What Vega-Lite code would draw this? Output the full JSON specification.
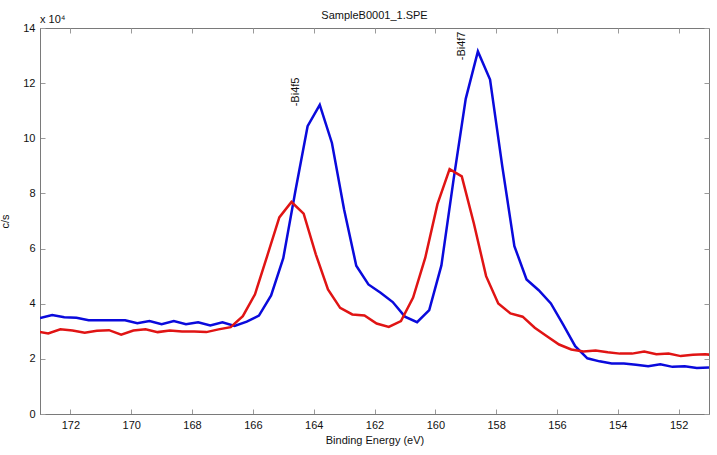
{
  "$schema": "https://vega.github.io/schema/vega-lite/v6.json",
  "width": 669,
  "height": 386,
  "autosize": {"type": "none"},
  "padding": {"left": 40, "top": 28, "right": 8, "bottom": 41},
  "background": "white",
  "config": {
    "font": "Liberation Sans",
    "view": {"stroke": "#7a7a7a", "strokeWidth": 1},
    "axis": {
      "grid": false,
      "domainColor": "#7a7a7a",
      "tickColor": "#9a9a9a",
      "labelColor": "#111111",
      "titleColor": "#111111",
      "labelFont": "Liberation Sans",
      "titleFont": "Liberation Sans",
      "labelFontSize": 11,
      "titleFontSize": 11,
      "titleFontWeight": "normal",
      "tickSize": -5
    }
  },
  "title": {
    "text": "SampleB0001_1.SPE",
    "fontSize": 11,
    "fontWeight": "normal",
    "font": "Liberation Sans",
    "color": "#111111",
    "offset": -7
  },
  "datasets": {
    "spectra": [
      {"series": "blue", "e": 173.0, "cps": 34800},
      {"series": "blue", "e": 172.6, "cps": 35900},
      {"series": "blue", "e": 172.2, "cps": 35100},
      {"series": "blue", "e": 171.8, "cps": 34900},
      {"series": "blue", "e": 171.4, "cps": 34000},
      {"series": "blue", "e": 171.0, "cps": 34000},
      {"series": "blue", "e": 170.6, "cps": 34000},
      {"series": "blue", "e": 170.2, "cps": 34000},
      {"series": "blue", "e": 169.8, "cps": 32900},
      {"series": "blue", "e": 169.4, "cps": 33700},
      {"series": "blue", "e": 169.0, "cps": 32600},
      {"series": "blue", "e": 168.6, "cps": 33700},
      {"series": "blue", "e": 168.2, "cps": 32600},
      {"series": "blue", "e": 167.8, "cps": 33300},
      {"series": "blue", "e": 167.4, "cps": 32100},
      {"series": "blue", "e": 167.0, "cps": 33300},
      {"series": "blue", "e": 166.6, "cps": 31900},
      {"series": "blue", "e": 166.2, "cps": 33500},
      {"series": "blue", "e": 165.8, "cps": 35700},
      {"series": "blue", "e": 165.4, "cps": 43000},
      {"series": "blue", "e": 165.0, "cps": 56500},
      {"series": "blue", "e": 164.6, "cps": 81000},
      {"series": "blue", "e": 164.2, "cps": 104400},
      {"series": "blue", "e": 163.8, "cps": 112100},
      {"series": "blue", "e": 163.4, "cps": 98300},
      {"series": "blue", "e": 163.0, "cps": 74200},
      {"series": "blue", "e": 162.6, "cps": 53800},
      {"series": "blue", "e": 162.2, "cps": 47000},
      {"series": "blue", "e": 161.8, "cps": 44000},
      {"series": "blue", "e": 161.4, "cps": 40600},
      {"series": "blue", "e": 161.0, "cps": 35300},
      {"series": "blue", "e": 160.6, "cps": 33300},
      {"series": "blue", "e": 160.2, "cps": 37700},
      {"series": "blue", "e": 159.8, "cps": 53900},
      {"series": "blue", "e": 159.4, "cps": 85000},
      {"series": "blue", "e": 159.0, "cps": 114300},
      {"series": "blue", "e": 158.6, "cps": 131500},
      {"series": "blue", "e": 158.2, "cps": 121300},
      {"series": "blue", "e": 157.8, "cps": 90000},
      {"series": "blue", "e": 157.4, "cps": 60900},
      {"series": "blue", "e": 157.0, "cps": 48800},
      {"series": "blue", "e": 156.6, "cps": 44900},
      {"series": "blue", "e": 156.2, "cps": 40100},
      {"series": "blue", "e": 155.8, "cps": 32500},
      {"series": "blue", "e": 155.4, "cps": 24600},
      {"series": "blue", "e": 155.0, "cps": 20200},
      {"series": "blue", "e": 154.6, "cps": 19100},
      {"series": "blue", "e": 154.2, "cps": 18300},
      {"series": "blue", "e": 153.8, "cps": 18300},
      {"series": "blue", "e": 153.4, "cps": 17900},
      {"series": "blue", "e": 153.0, "cps": 17300},
      {"series": "blue", "e": 152.6, "cps": 18000},
      {"series": "blue", "e": 152.2, "cps": 17100},
      {"series": "blue", "e": 151.8, "cps": 17300},
      {"series": "blue", "e": 151.4, "cps": 16700},
      {"series": "blue", "e": 151.0, "cps": 16900},
      {"series": "red", "e": 173.13, "cps": 30000},
      {"series": "red", "e": 172.73, "cps": 29200},
      {"series": "red", "e": 172.33, "cps": 30700},
      {"series": "red", "e": 171.93, "cps": 30300},
      {"series": "red", "e": 171.53, "cps": 29500},
      {"series": "red", "e": 171.13, "cps": 30200},
      {"series": "red", "e": 170.73, "cps": 30400},
      {"series": "red", "e": 170.33, "cps": 28800},
      {"series": "red", "e": 169.93, "cps": 30300},
      {"series": "red", "e": 169.53, "cps": 30700},
      {"series": "red", "e": 169.13, "cps": 29700},
      {"series": "red", "e": 168.73, "cps": 30300},
      {"series": "red", "e": 168.33, "cps": 29900},
      {"series": "red", "e": 167.93, "cps": 29900},
      {"series": "red", "e": 167.53, "cps": 29700},
      {"series": "red", "e": 167.13, "cps": 30700},
      {"series": "red", "e": 166.73, "cps": 31500},
      {"series": "red", "e": 166.33, "cps": 35500},
      {"series": "red", "e": 165.93, "cps": 43400},
      {"series": "red", "e": 165.53, "cps": 57300},
      {"series": "red", "e": 165.13, "cps": 71300},
      {"series": "red", "e": 164.73, "cps": 76900},
      {"series": "red", "e": 164.33, "cps": 72700},
      {"series": "red", "e": 163.93, "cps": 57900},
      {"series": "red", "e": 163.53, "cps": 45200},
      {"series": "red", "e": 163.13, "cps": 38500},
      {"series": "red", "e": 162.73, "cps": 36100},
      {"series": "red", "e": 162.33, "cps": 35700},
      {"series": "red", "e": 161.93, "cps": 32800},
      {"series": "red", "e": 161.53, "cps": 31600},
      {"series": "red", "e": 161.13, "cps": 33700},
      {"series": "red", "e": 160.73, "cps": 42200},
      {"series": "red", "e": 160.33, "cps": 56700},
      {"series": "red", "e": 159.93, "cps": 76100},
      {"series": "red", "e": 159.53, "cps": 88800},
      {"series": "red", "e": 159.13, "cps": 86200},
      {"series": "red", "e": 158.73, "cps": 69000},
      {"series": "red", "e": 158.33, "cps": 50000},
      {"series": "red", "e": 157.93, "cps": 40100},
      {"series": "red", "e": 157.53, "cps": 36500},
      {"series": "red", "e": 157.13, "cps": 35300},
      {"series": "red", "e": 156.73, "cps": 31300},
      {"series": "red", "e": 156.33, "cps": 28200},
      {"series": "red", "e": 155.93, "cps": 25200},
      {"series": "red", "e": 155.53, "cps": 23400},
      {"series": "red", "e": 155.13, "cps": 22700},
      {"series": "red", "e": 154.73, "cps": 23000},
      {"series": "red", "e": 154.33, "cps": 22400},
      {"series": "red", "e": 153.93, "cps": 21900},
      {"series": "red", "e": 153.53, "cps": 21900},
      {"series": "red", "e": 153.13, "cps": 22700},
      {"series": "red", "e": 152.73, "cps": 21700},
      {"series": "red", "e": 152.33, "cps": 21900},
      {"series": "red", "e": 151.93, "cps": 21000},
      {"series": "red", "e": 151.53, "cps": 21500},
      {"series": "red", "e": 151.13, "cps": 21700},
      {"series": "red", "e": 150.73, "cps": 21200}
    ],
    "labels": [
      {"label": "-Bi4f5", "e": 164.57, "cps": 111600},
      {"label": "-Bi4f7", "e": 159.13, "cps": 128300}
    ],
    "scaleNote": [
      {"note": "x 10⁴", "e": 173.0, "cps": 140000}
    ]
  },
  "resolve": {"axis": {"x": "independent", "y": "independent"}},
  "layer": [
    {
      "data": {"name": "spectra"},
      "mark": {"type": "line", "strokeWidth": 2.5, "clip": true, "strokeJoin": "miter"},
      "encoding": {
        "x": {
          "field": "e", "type": "quantitative",
          "scale": {"domain": [151, 173], "reverse": true, "nice": false, "zero": false},
          "axis": {
            "orient": "bottom",
            "title": "Binding Energy (eV)",
            "values": [152, 154, 156, 158, 160, 162, 164, 166, 168, 170, 172],
            "labelPadding": 10,
            "titlePadding": 4
          }
        },
        "y": {
          "field": "cps", "type": "quantitative",
          "scale": {"domain": [0, 140000], "nice": false},
          "axis": {
            "orient": "left",
            "title": "c/s",
            "values": [0, 20000, 40000, 60000, 80000, 100000, 120000, 140000],
            "labelExpr": "datum.value / 10000",
            "labelPadding": 10,
            "titlePadding": 12
          }
        },
        "color": {
          "field": "series", "type": "nominal",
          "scale": {"domain": ["blue", "red"], "range": ["#0a0adc", "#e01414"]},
          "legend": null
        },
        "order": {"field": "e", "sort": "descending"}
      }
    },
    {
      "data": {"name": "spectra"},
      "mark": {"type": "line", "strokeOpacity": 0, "clip": true},
      "encoding": {
        "x": {
          "field": "e", "type": "quantitative",
          "axis": {
            "orient": "top", "title": null, "labels": false, "domain": false,
            "values": [152, 154, 156, 158, 160, 162, 164, 166, 168, 170, 172]
          }
        },
        "y": {
          "field": "cps", "type": "quantitative",
          "axis": {
            "orient": "right", "title": null, "labels": false, "domain": false,
            "values": [0, 20000, 40000, 60000, 80000, 100000, 120000, 140000]
          }
        },
        "detail": {"field": "series"}
      }
    },
    {
      "data": {"name": "labels"},
      "mark": {"type": "text", "angle": 270, "align": "left", "baseline": "middle", "fontSize": 11, "font": "Liberation Sans", "color": "#111111"},
      "encoding": {
        "x": {"field": "e", "type": "quantitative", "axis": null},
        "y": {"field": "cps", "type": "quantitative", "axis": null},
        "text": {"field": "label"}
      }
    },
    {
      "data": {"name": "scaleNote"},
      "mark": {"type": "text", "align": "left", "baseline": "bottom", "fontSize": 11, "font": "Liberation Sans", "color": "#111111", "dy": -3, "clip": false},
      "encoding": {
        "x": {"field": "e", "type": "quantitative", "axis": null},
        "y": {"field": "cps", "type": "quantitative", "axis": null},
        "text": {"field": "note"}
      }
    }
  ]
}
